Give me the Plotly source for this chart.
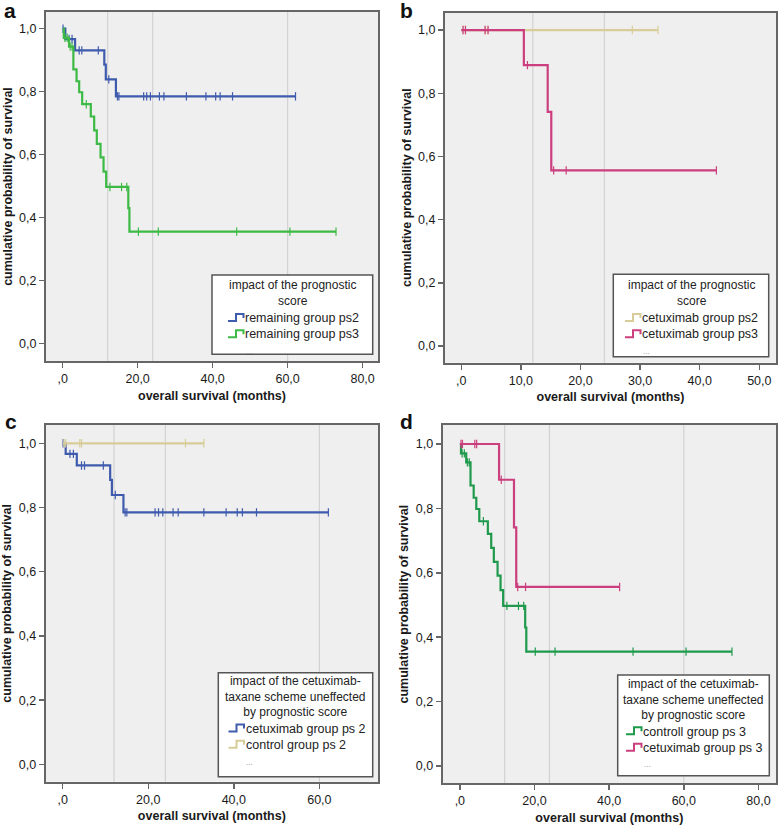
import plotly.graph_objects as go

# ---------------- data ----------------
# Kaplan-Meier step curves: event times (months) and survival after each step
PS2_REM_T = [0.7, 3.3, 11.1, 11.5, 14.2]
PS2_REM_S = [0.967, 0.931, 0.886, 0.839, 0.785]
PS2_REM_CENS = [0.1, 1.7, 2.5, 4.4, 5.1, 9.5, 12.3, 14.6, 15.0, 21.6, 22.4, 23.4,
                25.8, 27.0, 33.0, 38.2, 40.8, 42.0, 45.3, 62.1]

PS3_REM_T = [0.3, 1.7, 2.85, 3.7, 4.4, 5.2, 7.5, 8.4, 9.1, 10.1, 10.9, 11.6, 17.5, 17.8]
PS3_REM_S = [0.971, 0.943, 0.871, 0.833, 0.798, 0.760, 0.721, 0.677, 0.634, 0.591,
             0.546, 0.497, 0.430, 0.355]
PS3_REM_CENS = [0.6, 1.2, 2.0, 2.5, 6.3, 12.6, 15.7, 17.1, 20.2, 25.5, 46.4, 60.6, 72.9]

PS3_CET_T = [10.5, 14.5, 15.1]
PS3_CET_S = [0.889, 0.741, 0.556]
PS3_CET_CENS = [0.3, 0.7, 4.0, 4.5, 11.1, 15.5, 17.6, 42.8]

PS2_CTL_T = []
PS2_CTL_S = []
PS2_CTL_CENS = [0.3, 0.7, 4.0, 4.4, 28.7, 33.0]

REF_LINES = [12, 24, 60]

Y_TICKS = [0.0, 0.2, 0.4, 0.6, 0.8, 1.0]
Y_TICK_TEXT = ["0,0", "0,2", "0,4", "0,6", "0,8", "1,0"]
X_TICKS_80 = [0, 20, 40, 60, 80]
X_TICK_TEXT_80 = [",0", "20,0", "40,0", "60,0", "80,0"]
X_TICKS_50 = [0, 10, 20, 30, 40, 50]
X_TICK_TEXT_50 = [",0", "10,0", "20,0", "30,0", "40,0", "50,0"]
X_TICKS_60 = [0, 20, 40, 60]
X_TICK_TEXT_60 = [",0", "20,0", "40,0", "60,0"]

BLUE = "#3F5BAE"
GREEN_L = "#3DBA45"
GREEN_D = "#1F9A4C"
PINK = "#CB3F7E"
BEIGE = "#D8CD98"

W, H = 778, 828
FONT = "Liberation Sans, Arial, sans-serif"

# panel geometry in pixels: (left, top, right, bottom), axis ranges, legend box
PANELS = [
    dict(letter="a", box=(46, 12, 378, 361), xr=(-4.45, 84.1), yr=(-0.056, 1.053),
         xt=X_TICKS_80, xtt=X_TICK_TEXT_80,
         curves=[("remaining group ps2", PS2_REM_T, PS2_REM_S, PS2_REM_CENS, BLUE),
                 ("remaining group ps3", PS3_REM_T, PS3_REM_S, PS3_REM_CENS, GREEN_L)],
         title=["impact of the prognostic", "score"], title_c=18.0, items_c=51.2,
         leg=(212, 275, 372.7, 354.3), icon_x=228, letter_pos=(3, -2)),
    dict(letter="b", box=(445, 12.7, 776, 362.7), xr=(-2.73, 52.8), yr=(-0.053, 1.055),
         xt=X_TICKS_50, xtt=X_TICK_TEXT_50,
         curves=[("cetuximab group ps2", PS2_CTL_T, PS2_CTL_S, PS2_CTL_CENS, BEIGE),
                 ("cetuximab group ps3", PS3_CET_T, PS3_CET_S, PS3_CET_CENS, PINK)],
         title=["impact of the prognostic", "score"], title_c=18.5, items_c=51.9,
         leg=(613.3, 274.3, 768.7, 356.7), icon_x=625, letter_pos=(399, -2)),
    dict(letter="c", box=(45.7, 425, 378, 781.7), xr=(-3.97, 73.7), yr=(-0.054, 1.057),
         xt=X_TICKS_60, xtt=X_TICK_TEXT_60,
         curves=[("cetuximab group ps 2", PS2_REM_T, PS2_REM_S, PS2_REM_CENS, BLUE),
                 ("control group ps 2", PS2_CTL_T, PS2_CTL_S, PS2_CTL_CENS, BEIGE)],
         title=["impact of the cetuximab-", "taxane scheme uneffected", "by prognostic score"],
         title_c=24.0, items_c=64.0,
         leg=(218.3, 672.7, 372.7, 776.7), icon_x=228.5, letter_pos=(4, 409)),
    dict(letter="d", box=(442.7, 425, 776, 783.3), xr=(-4.6, 84.7), yr=(-0.054, 1.059),
         xt=X_TICKS_80, xtt=X_TICK_TEXT_80,
         curves=[("controll group ps 3", PS3_REM_T, PS3_REM_S, PS3_REM_CENS, GREEN_D),
                 ("cetuximab group ps 3", PS3_CET_T, PS3_CET_S, PS3_CET_CENS, PINK)],
         title=["impact of the cetuximab-", "taxane scheme uneffected", "by prognostic score"],
         title_c=24.0, items_c=64.5,
         leg=(617.7, 675, 769.3, 775.7), icon_x=626, letter_pos=(399, 409)),
]

LEG_FONT = 12
LINE_H = 1.3 * LEG_FONT


def px(x):
    return x / W


def py(y):
    return 1 - y / H


def surv_at(t, times, surv):
    s = 1.0
    for ti, si in zip(times, surv):
        if t >= ti:
            s = si
    return s


fig = go.Figure()
shapes = []
annotations = []
layout_axes = {}

for i, p in enumerate(PANELS):
    n = "" if i == 0 else str(i + 1)
    xa, ya = "x" + n, "y" + n
    l, t, r, b = p["box"]
    layout_axes["xaxis" + n] = dict(
        domain=[px(l), px(r)], range=list(p["xr"]), anchor=ya,
        tickvals=p["xt"], ticktext=p["xtt"], ticks="outside", ticklen=5,
        tickcolor="#666", tickwidth=1.5, showline=True, linecolor="#666666",
        linewidth=2, mirror=True, showgrid=False, zeroline=False,
        tickfont=dict(size=12.5, color="#1a1a1a", family=FONT),
        title=dict(text="<b>overall survival (months)</b>", standoff=6,
                   font=dict(size=12.5, color="#1a1a1a", family=FONT)),
        automargin=False, fixedrange=True)
    layout_axes["yaxis" + n] = dict(
        domain=[py(b), py(t)], range=list(p["yr"]), anchor=xa,
        tickvals=Y_TICKS, ticktext=Y_TICK_TEXT, ticks="outside", ticklen=5,
        tickcolor="#666", tickwidth=1.5, showline=True, linecolor="#666666",
        linewidth=2, mirror=True, showgrid=False, zeroline=False,
        tickfont=dict(size=12.5, color="#1a1a1a", family=FONT),
        title=dict(text="<b>cumulative probability of survival</b>", standoff=4,
                   font=dict(size=12.5, color="#1a1a1a", family=FONT)),
        automargin=False, fixedrange=True)

    # plot background
    shapes.append(dict(type="rect", xref=xa + " domain", yref=ya + " domain",
                       x0=0, x1=1, y0=0, y1=1, fillcolor="#EFEFEF",
                       line=dict(width=0), layer="below"))
    # reference lines
    for v in REF_LINES:
        if p["xr"][0] < v < p["xr"][1]:
            shapes.append(dict(type="line", xref=xa, yref=ya + " domain",
                               x0=v, x1=v, y0=0, y1=1,
                               line=dict(color="#D2D2D2", width=1.2), layer="below"))

    # curves
    for name, times, surv, cens, col in p["curves"]:
        end = max(cens + times)
        xs = [0] + list(times) + [end]
        ys = [1.0] + list(surv) + [surv[-1] if surv else 1.0]
        fig.add_trace(go.Scatter(x=xs, y=ys, mode="lines", line_shape="hv",
                                 line=dict(color=col, width=2.2), name=name,
                                 showlegend=False, xaxis=xa, yaxis=ya,
                                 hoverinfo="skip"))
        cy = [surv_at(c, times, surv) for c in cens]
        fig.add_trace(go.Scatter(x=cens, y=cy, mode="markers", name=name + " censored",
                                 marker=dict(symbol="line-ns", size=6,
                                             line=dict(color=col, width=1.2)),
                                 showlegend=False, xaxis=xa, yaxis=ya,
                                 hoverinfo="skip"))

    # panel letter
    lx, ly = p["letter_pos"]
    annotations.append(dict(text="<b>%s</b>" % p["letter"], x=px(lx), y=py(ly),
                            xref="paper", yref="paper", xanchor="left", yanchor="top",
                            showarrow=False, borderpad=0,
                            font=dict(size=21, color="#111", family=FONT)))

    # legend box
    L, T, R, B = p["leg"]
    shapes.append(dict(type="rect", xref="paper", yref="paper",
                       x0=px(L), x1=px(R), y0=py(B), y1=py(T),
                       fillcolor="white", line=dict(color="#555", width=1.5)))
    cx = (L + R) / 2
    annotations.append(dict(text="<br>".join(p["title"]), x=px(cx), y=py(T + p["title_c"]),
                            xref="paper", yref="paper", xanchor="center", align="center",
                            yanchor="middle", showarrow=False, borderpad=0,
                            font=dict(size=LEG_FONT, color="#222", family=FONT)))
    names = [c[0] for c in p["curves"]]
    x0 = p["icon_x"]
    annotations.append(dict(text="<br>".join(names), x=px(x0 + 16), y=py(T + p["items_c"]),
                            xref="paper", yref="paper", xanchor="left", align="left",
                            yanchor="middle", showarrow=False, borderpad=0,
                            font=dict(size=LEG_FONT + 0.5, color="#222", family=FONT)))
    nitems = len(names)
    for k, (name, times, surv, cens, col) in enumerate(p["curves"]):
        yc = T + p["items_c"] + (k - (nitems - 1) / 2) * 1.3 * (LEG_FONT + 0.5)
        path = "M %f %f L %f %f L %f %f L %f %f L %f %f" % (
            px(x0), py(yc + 3), px(x0 + 8), py(yc + 3), px(x0 + 8), py(yc - 4),
            px(x0 + 15.5), py(yc - 4), px(x0 + 15.5), py(yc))
        shapes.append(dict(type="path", xref="paper", yref="paper", path=path,
                           line=dict(color=col, width=2)))
    annotations.append(dict(text="...", x=px(x0 + 17),
                            y=py(T + p["items_c"] + 1.3 * (LEG_FONT + 0.5) * 1.5 + 1),
                            xref="paper", yref="paper", xanchor="left", yanchor="middle",
                            showarrow=False, borderpad=0,
                            font=dict(size=8, color="#888", family=FONT)))

fig.update_layout(
    width=W, height=H, margin=dict(l=0, r=0, t=0, b=0),
    paper_bgcolor="white", plot_bgcolor="rgba(0,0,0,0)",
    showlegend=False, shapes=shapes, annotations=annotations,
    font=dict(family=FONT), **layout_axes)

fig.write_html("out.html", config={"displayModeBar": False, "staticPlot": True},
               post_script="document.body.style.margin='0';document.body.style.overflow='hidden';")
